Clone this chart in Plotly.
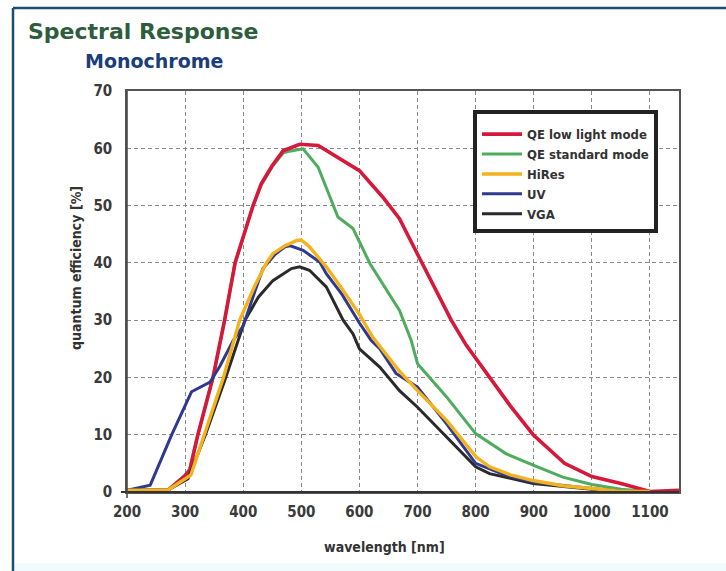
import plotly.graph_objects as go

# Spectral response curves, wavelength in nm vs quantum efficiency in %
low_light_nm = [200, 270, 300, 308, 322, 348, 368, 386, 417, 431, 450, 469, 480, 497, 529, 560, 600,
                640, 669, 700, 758, 784, 824, 860, 899, 953, 1000, 1050, 1100, 1150]
low_light_qe = [0.3, 0.3, 2.8, 3.8, 10, 20, 30, 40, 50, 53.8, 57, 59.6, 60, 60.7, 60.5, 58.5, 56.1,
                51.5, 47.7, 41.5, 30, 25.6, 20, 15, 10, 5, 2.7, 1.5, 0.1, 0.3]

standard_nm = [200, 270, 300, 308, 322, 348, 368, 386, 417, 431, 450, 469, 480, 503, 529, 563, 589,
               618, 669, 689, 700, 721, 750, 800, 852, 899, 950, 1000, 1050, 1100]
standard_qe = [0.3, 0.3, 3.0, 4.0, 10, 20, 30, 40, 50, 53.6, 56.8, 59.2, 59.5, 59.9, 56.7, 48, 46,
               39.9, 31.7, 26.5, 22.4, 20, 16.6, 10.2, 6.7, 4.7, 2.6, 1.3, 0.5, 0.1]

hires_nm = [200, 270, 300, 310, 333, 366, 394, 420, 440, 451, 472, 492, 500, 514, 543, 570, 600,
            623, 668, 700, 750, 801, 824, 860, 899, 950, 1000, 1050, 1100]
hires_qe = [0.3, 0.3, 2.3, 3.0, 10, 20, 30, 36, 40, 41.6, 43, 43.9, 44, 42.8, 39.3, 35.5, 31,
            27, 21.2, 17.7, 12.5, 6.1, 4.4, 3.0, 2.0, 1.1, 0.6, 0.1, 0.1]

uv_nm = [200, 240, 277, 311, 343, 360, 383, 400, 420, 434, 455, 472, 480, 503, 532, 543, 570, 600,
         620, 635, 663, 700, 750, 800, 850, 899, 1000, 1050]
uv_qe = [0.3, 1.2, 10, 17.5, 19.2, 22, 26.5, 29, 35, 39, 41.5, 42.8, 43, 42.2, 40.1, 38.1, 34.5, 29.5,
         26.5, 25, 20.7, 18.3, 11.9, 5, 3, 1.7, 0.6, 0.1]

vga_nm = [200, 270, 305, 335, 370, 403, 426, 451, 483, 497, 514, 543, 572, 589, 600, 635, 669,
          700, 750, 800, 824, 899, 1000, 1050]
vga_qe = [0.3, 0.3, 2.3, 10, 20, 30, 34, 36.9, 39, 39.3, 38.7, 35.8, 30, 27.6, 25, 21.8, 17.7,
          14.8, 9.6, 4.4, 3.2, 1.5, 0.5, 0.1]

series_names = ["QE low light mode", "QE standard mode", "HiRes", "UV", "VGA"]
series_colors = ["#d6183a", "#4fac5e", "#f4b21c", "#2f3a8f", "#2a2a2a"]
series_widths = [3.6, 3.0, 3.4, 3.0, 3.0]
series_data = [(low_light_nm, low_light_qe), (standard_nm, standard_qe),
               (hires_nm, hires_qe), (uv_nm, uv_qe), (vga_nm, vga_qe)]

x_ticks = [200, 300, 400, 500, 600, 700, 800, 900, 1000, 1100]
y_ticks = [0, 10, 20, 30, 40, 50, 60, 70]

W, H = 726, 571
ML, MR, MT, MB = 127, 47, 91, 79
PW, PH = W - ML - MR, H - MT - MB


def px(x):
    return (x - ML) / PW


def py(y):
    return (H - MB - y) / PH


NARROW = "'DejaVu Sans Condensed', 'Liberation Sans Narrow', Roboto, sans-serif"

fig = go.Figure()
# draw order: low light on top of the standard curve, VGA under the others
draw_order = [1, 0, 4, 3, 2]
for i in range(5):
    nm, qe = series_data[i]
    fig.add_trace(go.Scatter(
        x=nm, y=qe, mode="lines", name=series_names[i],
        line=dict(color=series_colors[i], width=series_widths[i]),
        legendrank=i + 1, legendgroup=f"g{i}",
    ))

fig.data = tuple(fig.data[i] for i in draw_order)

axis_common = dict(
    showgrid=True, gridcolor="#8a8a8a", griddash="4px,3px", gridwidth=1,
    zeroline=False, showline=True, mirror=True, linecolor="#555555", linewidth=1.5,
    tickfont=dict(family=NARROW, size=15, color="#3a3a3a", weight="bold"),
    ticks="",
)

fig.update_xaxes(range=[200, 1150], tickvals=x_ticks, ticklabelstandoff=5, **axis_common)
fig.update_yaxes(range=[0, 70], tickvals=y_ticks, ticklabelstandoff=10, **axis_common)

# darker origin axes with small ticks crossing at the origin
fig.add_shape(type="line", xref="paper", yref="paper", x0=px(121), x1=1, y0=0, y1=0,
              line=dict(color="#333333", width=2))
fig.add_shape(type="line", xref="paper", yref="paper", x0=0, x1=0, y0=py(498), y1=1,
              line=dict(color="#444444", width=1.5))

# outer frame
frame_color = "#1f4d70"
fig.add_shape(type="line", xref="paper", yref="paper", x0=px(13), x1=px(W + 5), y0=py(8), y1=py(8),
              line=dict(color=frame_color, width=2.5))
fig.add_shape(type="line", xref="paper", yref="paper", x0=px(13), x1=px(13), y0=py(8), y1=py(H + 5),
              line=dict(color=frame_color, width=2.5))
fig.add_shape(type="rect", xref="paper", yref="paper", x0=px(15), x1=px(W + 5), y0=py(563), y1=py(H + 5),
              line=dict(width=0), fillcolor="#f1fbfd", layer="below")

annotations = [
    dict(text="Spectral Response", x=px(26), y=py(32), xanchor="left", yanchor="middle",
         font=dict(family="DejaVu Sans", size=22, color="#2d5d3c", weight="bold")),
    dict(text="Monochrome", x=px(83), y=py(61), xanchor="left", yanchor="middle",
         font=dict(family="DejaVu Sans", size=19, color="#1b3d7c", weight="bold")),
    dict(text="quantum efficiency [%]", x=px(76), y=py(268), xanchor="center", yanchor="middle",
         textangle=-90, font=dict(family=NARROW, size=14, color="#333333", weight="bold")),
    dict(text="wavelength [nm]", x=px(384), y=py(547), xanchor="center", yanchor="middle",
         font=dict(family=NARROW, size=14, color="#333333", weight="bold")),
]
for a in annotations:
    a.update(xref="paper", yref="paper", showarrow=False)

fig.update_layout(
    width=W, height=H,
    margin=dict(l=ML, r=MR, t=MT, b=MB),
    paper_bgcolor="white", plot_bgcolor="white",
    annotations=annotations,
    showlegend=True,
    legend=dict(
        x=px(473), y=py(110), xanchor="left", yanchor="top",
        bgcolor="white", bordercolor="#222222", borderwidth=4,
        font=dict(family=NARROW, size=13, color="#333333", weight="bold"),
        title=dict(text=" ", font=dict(size=4)),
        itemwidth=40, tracegroupgap=5, traceorder="normal",
        entrywidth=140,
    ),
)

fig.write_html("out.html")
